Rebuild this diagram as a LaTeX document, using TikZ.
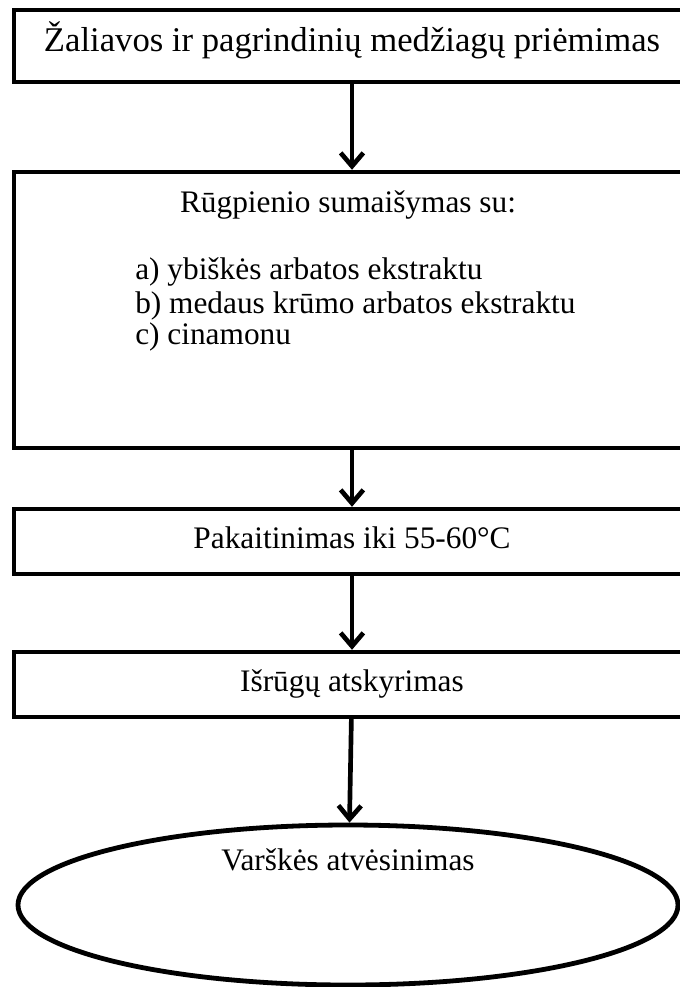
\documentclass[tikz,border=0pt]{standalone}
\usepackage{fontspec}
\setmainfont{Liberation Serif}
\usetikzlibrary{arrows.meta, positioning, shapes.geometric}

\begin{document}
\begin{tikzpicture}[x=0.75pt, y=-0.75pt,
          font=\fontsize{23.5}{26}\selectfont,
          blk/.style={draw, line width=3.3pt, align=center,
                      minimum width=507pt, text height=15pt, text depth=5pt},
          txt/.style={inner sep=0pt},
          arr/.style={-{Straight Barb[length=10pt, width=17pt]}, line width=3.5pt}]
          \useasboundingbox (0,0) rectangle (680,987);
          \node[blk, minimum height=54pt, text height=17pt, text depth=8pt,
                font=\fontsize{26}{28}\selectfont] (recv)
            at (352,46) {Žaliavos ir pagrindinių medžiagų priėmimas};
          \node[blk, minimum height=207pt] (mix) at (352,310) {};
          \node[txt, anchor=base] (mixtitle) at (348,213) {Rūgpienio sumaišymas su:};
          \node[txt, anchor=base west] (mixa) at (135,280) {a) ybiškės arbatos ekstraktu};
          \node[txt, anchor=base west] (mixb) at (135,313) {b) medaus krūmo arbatos ekstraktu};
          \node[txt, anchor=base west] (mixc) at (135,344) {c) cinamonu};
          \node[blk, minimum height=48.75pt] (heat) at (352,541.5) {Pakaitinimas iki 55-60°C};
          \node[blk, minimum height=48.75pt] (whey) at (352,684.5) {Išrūgų atskyrimas};
          \node[draw, ellipse, line width=3.6pt, inner sep=0pt,
                minimum width=495pt, minimum height=120pt,
                text height=15pt, text depth=67pt] (cool)
            at (348,905) {Varškės atvėsinimas};
          \draw[arr] (recv) -- (mix);
          \draw[arr] (mix) -- (heat);
          \draw[arr] (heat) -- (whey);
          \draw[arr] (whey) -- (cool);
        \end{tikzpicture}
\end{document}
